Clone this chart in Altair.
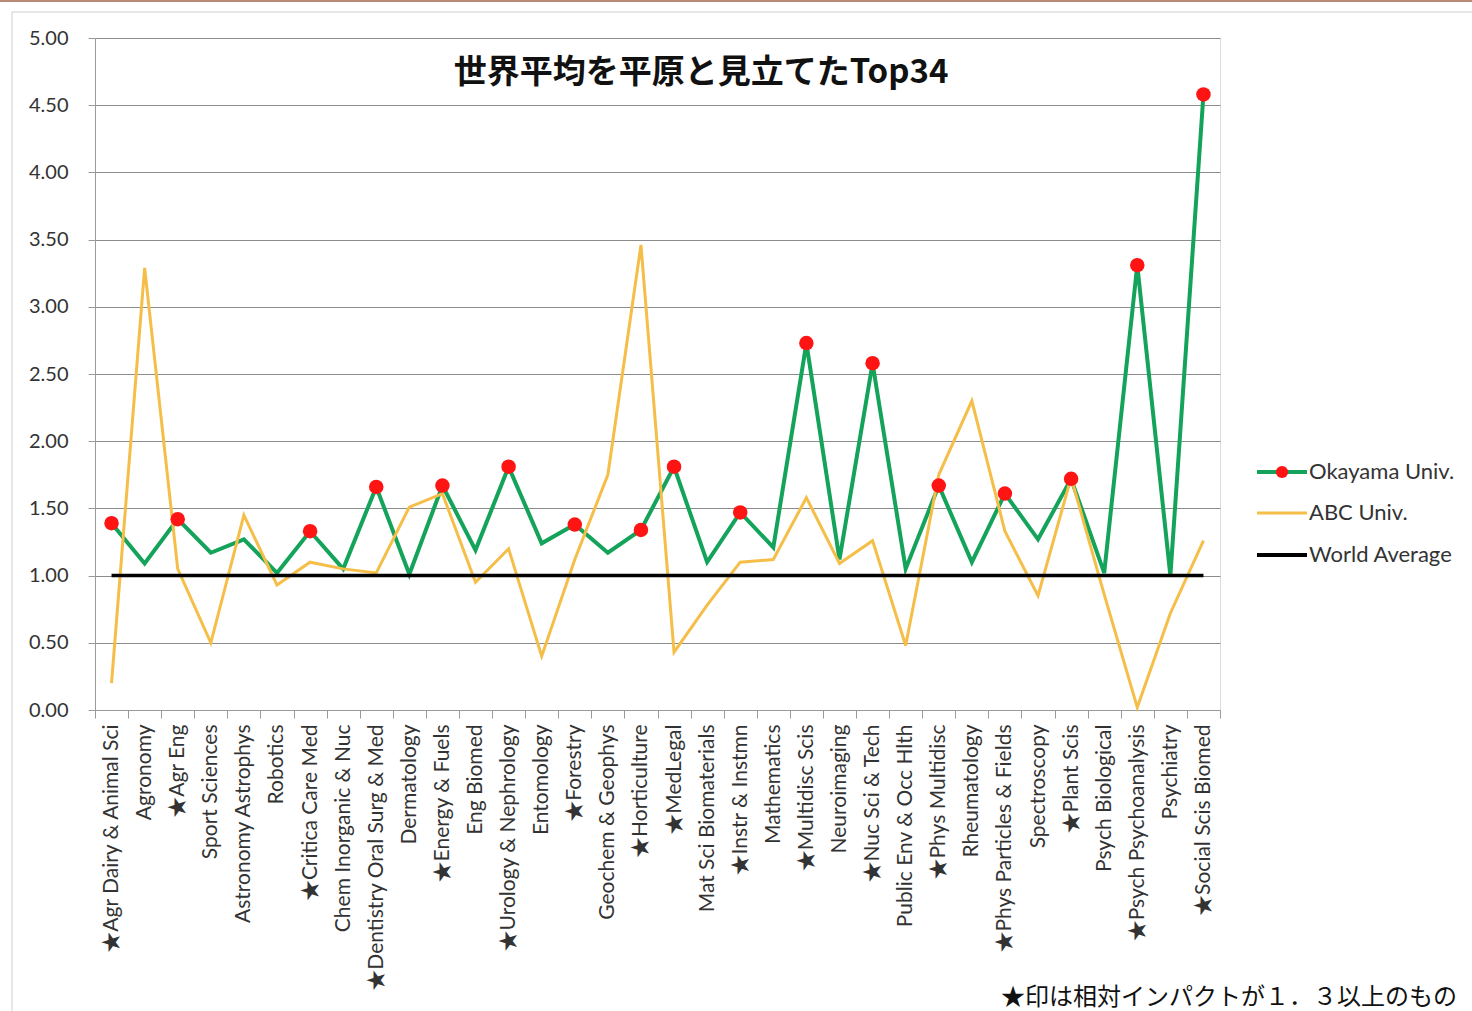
import altair as alt
import pandas as pd

categories = [
    "★Agr Dairy & Animal Sci", "Agronomy", "★Agr Eng", "Sport Sciences",
    "Astronomy Astrophys", "Robotics", "★Critica Care Med", "Chem Inorganic & Nuc",
    "★Dentistry Oral Surg & Med", "Dermatology", "★Energy & Fuels", "Eng Biomed",
    "★Urology & Nephrology", "Entomology", "★Forestry", "Geochem & Geophys",
    "★Horticulture", "★MedLegal", "Mat Sci Biomaterials", "★Instr & Instmn",
    "Mathematics", "★Multidisc Scis", "Neuroimaging", "★Nuc Sci & Tech",
    "Public Env & Occ Hlth", "★Phys Multidisc", "Rheumatology", "★Phys Particles & Fields",
    "Spectroscopy", "★Plant Scis", "Psych Biological", "★Psych Psychoanalysis",
    "Psychiatry", "★Social Scis Biomed",
]

okayama = [1.39, 1.09, 1.42, 1.17, 1.27, 1.02, 1.33, 1.05, 1.66, 1.01,
           1.67, 1.19, 1.81, 1.24, 1.38, 1.17, 1.34, 1.81, 1.10, 1.47,
           1.21, 2.73, 1.12, 2.58, 1.05, 1.67, 1.10, 1.61, 1.27, 1.72,
           1.02, 3.31, 1.00, 4.58]

abc = [0.20, 3.29, 1.05, 0.50, 1.45, 0.93, 1.10, 1.05, 1.02, 1.51,
       1.61, 0.95, 1.20, 0.40, 1.12, 1.75, 3.46, 0.43, 0.78, 1.10,
       1.12, 1.58, 1.09, 1.26, 0.48, 1.75, 2.30, 1.33, 0.85, 1.73,
       0.86, 0.02, 0.72, 1.26]

world_average = [1.00] * len(categories)

y_ticks = [0.0, 0.5, 1.0, 1.5, 2.0, 2.5, 3.0, 3.5, 4.0, 4.5, 5.0]

title_text = "世界平均を平原と見立てたTop34"
note_text = "★印は相対インパクトが１．３以上のもの"
legend_labels = ["Okayama Univ.", "ABC Univ.", "World Average"]

GREEN = "#14A35A"
YELLOW = "#F5BE48"
RED = "#FF1414"
BLACK = "#000000"
LABEL_FONT = "Lato, 'Noto Sans CJK JP', sans-serif"

df_ok = pd.DataFrame({"cat": categories, "value": okayama})
df_abc = pd.DataFrame({"cat": categories, "value": abc})
df_wa = pd.DataFrame({"cat": categories, "value": world_average})
df_star = df_ok[df_ok["cat"].str.startswith("★")]

W, H = 1125, 672

x_enc = alt.X(
    "cat:N", sort=categories,
    scale=alt.Scale(type="band", paddingInner=0, paddingOuter=0),
    axis=alt.Axis(
        title=None, labelAngle=270, labelFont=LABEL_FONT, labelFontSize=21,
        labelColor="#333333", tickBand="extent", tickSize=8, tickColor="#9a9a9a",
        domainColor="#9a9a9a", labelPadding=6, grid=False, labelOverlap=False,
        labelLimit=400,
    ),
)
y_enc = alt.Y(
    "value:Q", scale=alt.Scale(domain=[0, 5], nice=False, zero=True),
    axis=alt.Axis(
        title=None, values=y_ticks, format=".2f", labelFont="Lato",
        labelFontSize=20, labelColor="#333333", tickSize=7, tickColor="#9a9a9a",
        domainColor="#9a9a9a", labelPadding=20, grid=True, gridColor="#8c8c8c",
        gridWidth=1,
    ),
)

one = pd.DataFrame({"k": [0]})

frame = alt.Chart(one).mark_rect(filled=False, stroke="#cfcfcf", strokeWidth=1).encode(
    x=alt.value(-83), x2=alt.value(1400), y=alt.value(-26), y2=alt.value(1000)
)
top_rule = alt.Chart(one).mark_rule(stroke="#b98a74", strokeWidth=2).encode(
    x=alt.value(-95), x2=alt.value(1377), y=alt.value(-37)
)

line_ok = alt.Chart(df_ok).mark_line(color=GREEN, strokeWidth=4).encode(x=x_enc, y=y_enc)
line_abc = alt.Chart(df_abc).mark_line(color=YELLOW, strokeWidth=3).encode(x=x_enc, y=y_enc)
line_wa = alt.Chart(df_wa).mark_line(color=BLACK, strokeWidth=3.5).encode(x=x_enc, y=y_enc)
pts = alt.Chart(df_star).mark_point(filled=True, color=RED, size=210, opacity=1).encode(
    x=x_enc, y=y_enc
)

title = alt.Chart(one).mark_text(
    text=title_text, font="Noto Sans CJK JP", fontWeight="bold", fontSize=33,
    align="center", baseline="middle", color="#111111",
).encode(x=alt.value(606), y=alt.value(35))

note = alt.Chart(one).mark_text(
    text=note_text, font="Noto Sans CJK JP", fontSize=24,
    align="right", baseline="middle", color="#111111",
).encode(x=alt.value(1362), y=alt.value(960))

legend_layers = []
legend_colors = [GREEN, YELLOW, BLACK]
legend_widths = [4, 3, 4]
legend_ys = [434, 475, 517]
for lab, col, sw, ly in zip(legend_labels, legend_colors, legend_widths, legend_ys):
    legend_layers.append(
        alt.Chart(one).mark_rule(stroke=col, strokeWidth=sw).encode(
            x=alt.value(1162), x2=alt.value(1212), y=alt.value(ly)
        )
    )
    legend_layers.append(
        alt.Chart(one).mark_text(
            text=lab, font="Lato", fontSize=22, align="left", baseline="middle",
            color="#333333",
        ).encode(x=alt.value(1214), y=alt.value(ly))
    )
legend_layers.append(
    alt.Chart(one).mark_point(filled=True, color=RED, size=150, opacity=1).encode(
        x=alt.value(1187), y=alt.value(legend_ys[0])
    )
)

chart = alt.layer(
    frame, top_rule, line_ok, line_abc, line_wa, pts, title, note, *legend_layers
).properties(
    width=W, height=H,
    padding={"left": 95, "top": 38, "right": 252, "bottom": 301},
    autosize=alt.AutoSizeParams(type="none"),
).configure_view(stroke=None).configure(background="white")

chart.save("out.html", embed_options={"renderer": "svg", "actions": False})
